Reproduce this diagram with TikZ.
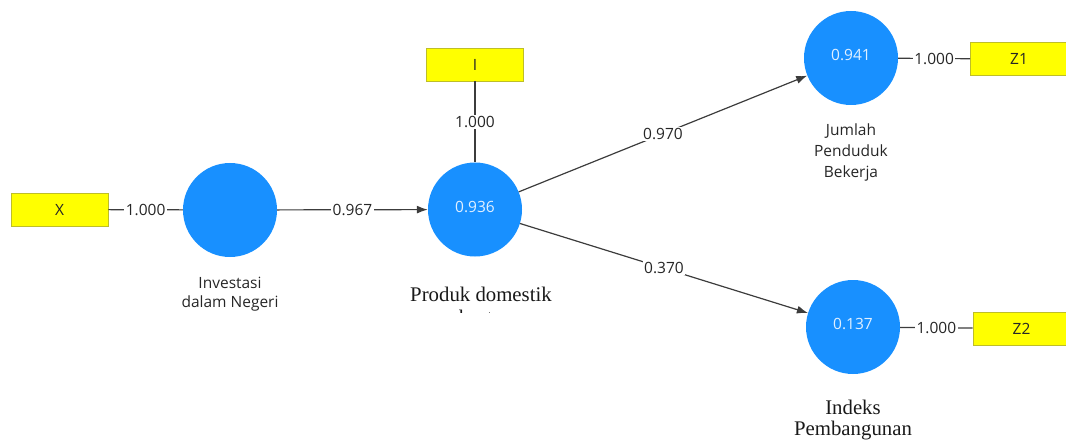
\documentclass[tikz,border=0pt]{standalone}
\usepackage{fontspec}
\setmainfont{Liberation Serif}
\newfontfamily\uisans{Open Sans}
\usetikzlibrary{arrows.meta}
\definecolor{lvblue}{RGB}{24,144,255}
\definecolor{indyellow}{RGB}{255,255,0}
\definecolor{indborder}{RGB}{190,190,40}
\definecolor{lngray}{RGB}{60,60,60}
\definecolor{valwhite}{RGB}{225,240,255}
\tikzset{
  ind/.style={draw=indborder, line width=0.8pt, fill=indyellow, minimum width=97pt, minimum height=33pt, inner sep=0pt, font=\uisans\fontsize{15.5}{18}\selectfont, text=black!85},
  lv/.style={circle, fill=lvblue, minimum size=94pt, inner sep=0pt, font=\uisans\fontsize{15.5}{18}\selectfont, text=valwhite},
  ln/.style={draw=lngray, line width=1.2pt},
  arr/.style={ln, -{Latex[length=11pt,width=8pt]}},
  lbl/.style={fill=white, inner sep=1.5pt, font=\uisans\fontsize{15.5}{18}\selectfont, text=black!85},
  sanslab/.style={anchor=base, inner sep=0pt, font=\uisans\fontsize{15.5}{18}\selectfont, text=black!85},
  seriflab/.style={anchor=base, inner sep=0pt, font=\fontsize{20.8}{23}\selectfont, text=black!90}
}
\begin{document}
\begin{tikzpicture}[x=1pt,y=-1pt]
\useasboundingbox (0,0) rectangle (1066,441);
\clip (0,0) rectangle (1066,441);
% indicators
\node[ind] (X) at (59.5,209.5) {X};
\node[ind] (I) at (475,64.5) {I};
\node[ind] (Z1) at (1019,59) {Z1};
\node[ind] (Z2) at (1021.5,328.5) {Z2};
% latent variables
\node[lv] (INV) at (230,210) {};
\node[lv] (PDB) at (475,209.5) {};
\node[lv] (JPB) at (851,58) {};
\node[lv] (IPM) at (853,327) {};
% values
\node[lv, fill=none, minimum size=0pt] (vPDB) at (475,206.5) {0.936};
\node[lv, fill=none, minimum size=0pt] (vJPB) at (851,55) {0.941};
\node[lv, fill=none, minimum size=0pt] (vIPM) at (853,324) {0.137};
% connectors
\draw[ln] (X) -- node[lbl] (eX) {1.000} (INV);
\draw[ln] (I) -- node[lbl] (eI) {1.000} (PDB);
\draw[ln] (JPB) -- node[lbl] (eZ1) {1.000} (Z1);
\draw[ln] (IPM) -- node[lbl] (eZ2) {1.000} (Z2);
\draw[arr] (INV) -- node[lbl] (e1) {0.967} (PDB);
\draw[arr] (PDB) -- node[lbl, pos=0.5] (e2) {0.970} (JPB);
\draw[arr] (PDB) -- node[lbl, pos=0.5] (e3) {0.370} (IPM);
% labels
\node[sanslab] (invA) at (230,288) {Investasi};
\node[sanslab] (invB) at (230,307) {dalam Negeri};
\node[sanslab] (jpbA) at (851,136) {Jumlah};
\node[sanslab] (jpbB) at (851,157) {Penduduk};
\node[sanslab] (jpbC) at (851,178) {Bekerja};
\node[seriflab] (pdbA) at (481,301) {Produk domestik};
\begin{scope}
\clip (380,240) rectangle (580,312.5);
\node[seriflab] (pdbB) at (481,324) {bruto};
\end{scope}
\node[seriflab] (ipmA) at (853,414) {Indeks};
\node[seriflab] (ipmB) at (853,435) {Pembangunan};
\end{tikzpicture}
\end{document}
